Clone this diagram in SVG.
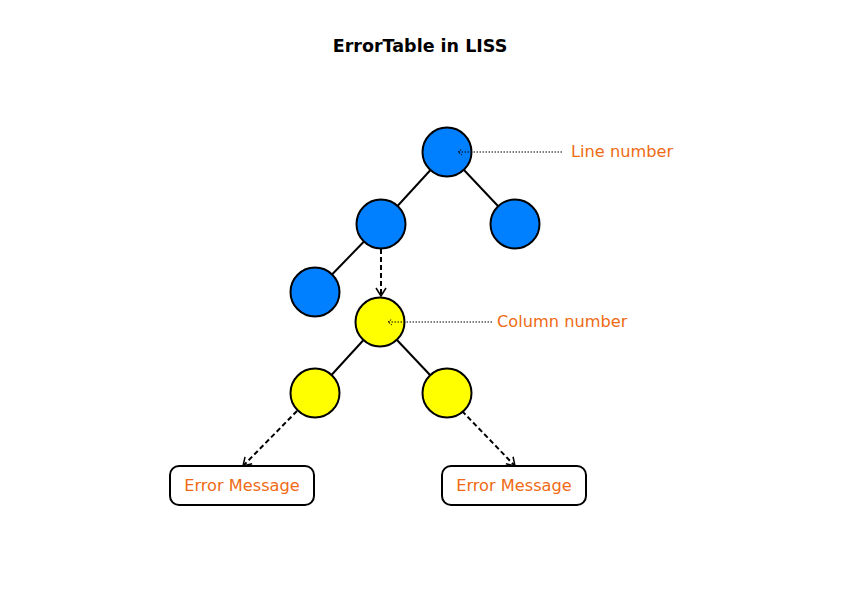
<svg xmlns="http://www.w3.org/2000/svg" width="842" height="596" viewBox="0 0 842 596">
<style>
text{font-family:"Lucida Grande","DejaVu Sans","Liberation Sans",sans-serif}
.title{font-size:17.5px;font-weight:bold;fill:#000}
.lbl{font-size:16.2px;fill:#EE6A14}
.blue{fill:#007FFF;stroke:#000;stroke-width:2}
.yel{fill:#FFFF00;stroke:#000;stroke-width:2}
.edge{stroke:#000;stroke-width:2;fill:none}
.dash{stroke:#000;stroke-width:2;fill:none;stroke-dasharray:5,3}
.dot{stroke:#000;stroke-width:1;fill:none;stroke-dasharray:1.5,1.5}
.box{fill:#fff;stroke:#000;stroke-width:2}
</style>
<defs>
<marker id="arr" markerWidth="12" markerHeight="12" refX="10" refY="6" orient="auto" markerUnits="userSpaceOnUse">
<path d="M2,1 L10,6 L2,11" fill="none" stroke="#000" stroke-width="1.5"/>
</marker>
<marker id="arrs" markerWidth="8" markerHeight="8" refX="7" refY="4" orient="auto" markerUnits="userSpaceOnUse">
<path d="M3,1 L7,4 L3,7" fill="none" stroke="#000" stroke-width="0.9" stroke-dasharray="1.5,1"/>
</marker>
</defs>
<rect width="842" height="596" fill="#fff"/>
<text class="title" x="420" y="52" text-anchor="middle">ErrorTable in LISS</text>
<g id="connectors">
<line class="edge" x1="447" y1="152" x2="381" y2="224"/>
<line class="edge" x1="447" y1="152" x2="515" y2="224"/>
<line class="edge" x1="381" y1="224" x2="315" y2="292"/>
<line class="edge" x1="380" y1="322" x2="315" y2="393"/>
<line class="edge" x1="380" y1="322" x2="447" y2="393"/>
<line class="dash" x1="381" y1="249" x2="381" y2="296" marker-end="url(#arr)"/>
<line class="dash" x1="297" y1="411" x2="243" y2="466" marker-end="url(#arr)"/>
<line class="dash" x1="462" y1="411" x2="515" y2="466" marker-end="url(#arr)"/>
</g>
<g id="n1"><circle class="blue" cx="447" cy="152" r="24.5"/></g>
<g id="n2"><circle class="blue" cx="381" cy="224" r="24.5"/></g>
<g id="n3"><circle class="blue" cx="515" cy="224" r="24.5"/></g>
<g id="n4"><circle class="blue" cx="315" cy="292" r="24.5"/></g>
<g id="n5"><circle class="yel" cx="380" cy="322" r="24.5"/></g>
<g id="n6"><circle class="yel" cx="315" cy="393" r="24.5"/></g>
<g id="n7"><circle class="yel" cx="447" cy="393" r="24.5"/></g>
<g id="annotations">
<line class="dot" x1="562" y1="152" x2="458" y2="152" marker-end="url(#arrs)"/>
<text class="lbl" x="571" y="157">Line number</text>
<line class="dot" x1="492" y1="322" x2="388" y2="322" marker-end="url(#arrs)"/>
<text class="lbl" x="497" y="327">Column number</text>
</g>
<g id="err1"><rect class="box" x="170" y="466" width="144" height="39" rx="9"/><text class="lbl" x="242" y="491" text-anchor="middle">Error Message</text></g>
<g id="err2"><rect class="box" x="442" y="466" width="144" height="39" rx="9"/><text class="lbl" x="514" y="491" text-anchor="middle">Error Message</text></g>
</svg>
